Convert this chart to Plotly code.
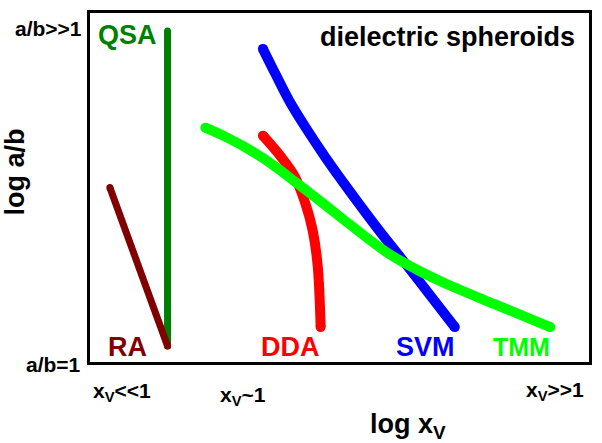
import plotly.graph_objects as go

# Conceptual curves (units: 0-100 along log x_V and log a/b)
ra_x = [3.98, 15.54]
ra_y = [50.0, 4.57]
qsa_x = [15.54, 15.54]
qsa_y = [94.86, 4.57]
svm_x = [34.66, 37.25, 40.04, 43.23, 47.21, 51.79, 57.77, 64.74, 73.11]
svm_y = [89.71, 82.29, 74.57, 67.14, 58.57, 49.43, 38.0, 25.43, 10.0]
dda_x = [34.66, 38.25, 41.04, 43.03, 44.62, 45.62, 46.22]
dda_y = [64.86, 58.86, 53.14, 46.0, 37.71, 27.71, 10.0]
tmm_x = [23.11, 27.49, 32.27, 36.85, 41.04, 46.22, 51.79, 59.76, 65.74, 71.12, 81.08, 92.23]
tmm_y = [67.14, 64.29, 60.57, 56.29, 51.71, 46.0, 39.71, 31.14, 26.29, 22.57, 16.57, 10.0]

FONT = "Liberation Sans"

series = [
    ("QSA", qsa_x, qsa_y, "#008000", 7, "linear"),
    ("RA", ra_x, ra_y, "#800000", 7, "linear"),
    ("SVM", svm_x, svm_y, "#0000ff", 10, "spline"),
    ("DDA", dda_x, dda_y, "#ff0000", 10, "spline"),
    ("TMM", tmm_x, tmm_y, "#00ff00", 10, "spline"),
]

fig = go.Figure()
for name, xs, ys, col, w, shape in series:
    fig.add_trace(go.Scatter(x=xs, y=ys, mode="lines",
                             line=dict(color=col, width=w, shape=shape, smoothing=1.0),
                             showlegend=False, hoverinfo="skip"))
    fig.add_trace(go.Scatter(x=[xs[0], xs[-1]], y=[ys[0], ys[-1]], mode="markers",
                             marker=dict(color=col, size=w, line=dict(width=0)),
                             showlegend=False, hoverinfo="skip"))

L, R, T, B = 90, 592, 12, 362

def ann(text, px, py, size, color="black", angle=0):
    fig.add_annotation(text=text, x=(px - L) / (R - L), y=(B - py) / (B - T),
                       xref="paper", yref="paper", showarrow=False,
                       font=dict(family=FONT, size=size, color=color),
                       xanchor="center", yanchor="middle", textangle=angle)

ann("<b>QSA</b>", 127.5, 34, 27, "#008000")
ann("<b>dielectric spheroids</b>", 449.5, 36, 27)
ann("<b>RA</b>", 127.5, 347, 27, "#800000")
ann("<b>DDA</b>", 291.5, 347, 27, "#ff0000")
ann("<b>SVM</b>", 427.5, 347, 27, "#0000ff")
ann("<b>TMM</b>", 524, 347, 25, "#00ff00")
ann("<b>a/b>>1</b>", 48, 28, 21)
ann("<b>a/b=1</b>", 53.5, 365, 21)
ann("<b>log a/b</b>", 15, 171.5, 27, angle=-90)
ann("<b>x<sub>V</sub><<1</b>", 122, 392, 21)
ann("<b>x<sub>V</sub>~1</b>", 244, 396, 21)
ann("<b>x<sub>V</sub>>>1</b>", 558, 391, 21)
ann("<b>log x<sub>V</sub></b>", 410, 426, 27)

axis = dict(range=[0, 100], showgrid=False, zeroline=False, showticklabels=False,
            ticks="", showline=True, mirror=True, linecolor="black", linewidth=3)
fig.update_layout(
    width=602, height=443,
    margin=dict(l=L, r=602 - R, t=T, b=443 - B),
    paper_bgcolor="white", plot_bgcolor="white",
    xaxis=axis, yaxis=axis,
    font=dict(family=FONT),
)
fig.write_html("out.html", config={"displayModeBar": False},
               post_script="document.body.style.margin='0';")
